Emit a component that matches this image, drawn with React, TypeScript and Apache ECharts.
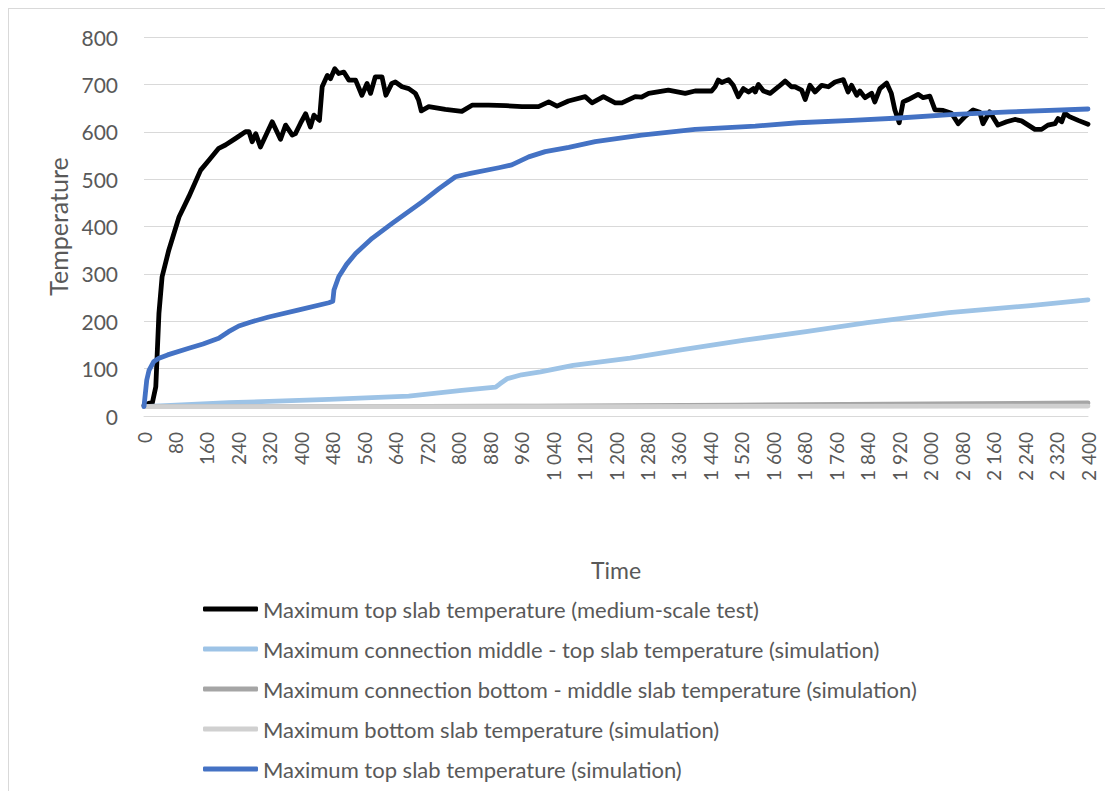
import React, { useEffect, useRef } from "react";
import * as echarts from "echarts";

const seriesNames = [
  "Maximum top slab temperature (medium-scale test)",
  "Maximum connection middle - top slab temperature (simulation)",
  "Maximum connection bottom - middle slab temperature (simulation)",
  "Maximum bottom slab temperature (simulation)",
  "Maximum top slab temperature (simulation)",
];

const testTop: [number, number][] = [
  [0, 22], [13, 27], [21, 27], [30, 62], [38, 217], [46, 294], [63, 350], [89, 420], [114, 463],
  [144, 519], [165, 540], [190, 565], [207, 572], [233, 586], [258, 600], [267, 600], [275, 579],
  [284, 596], [296, 568], [326, 621], [347, 584], [360, 614], [377, 593], [385, 596], [398, 618],
  [411, 638], [423, 610], [432, 635], [446, 624], [453, 695], [466, 719], [474, 712], [485, 733],
  [495, 723], [508, 726], [521, 709], [538, 709], [554, 677], [567, 702], [576, 681], [588, 716],
  [605, 716], [615, 677], [630, 702], [639, 705], [656, 695], [673, 691], [690, 681], [698, 667],
  [705, 644], [724, 653], [766, 647], [808, 643], [834, 656], [876, 656], [920, 655], [961, 653],
  [1003, 653], [1029, 663], [1050, 654], [1079, 665], [1122, 674], [1139, 661], [1168, 674],
  [1198, 661], [1215, 661], [1249, 674], [1265, 673], [1283, 681], [1333, 688], [1376, 681],
  [1401, 686], [1443, 686], [1452, 695], [1460, 709], [1469, 704], [1486, 710], [1498, 698],
  [1511, 674], [1524, 691], [1537, 684], [1549, 691], [1554, 684], [1562, 700], [1575, 686],
  [1592, 681], [1613, 695], [1630, 707], [1646, 695], [1655, 695], [1672, 688], [1681, 668],
  [1693, 698], [1706, 684], [1723, 698], [1740, 695], [1757, 705], [1778, 710], [1790, 684],
  [1799, 698], [1812, 677], [1820, 686], [1833, 672], [1850, 681], [1858, 663], [1871, 691],
  [1888, 703], [1900, 681], [1909, 646], [1920, 619], [1930, 663], [1943, 668], [1968, 679],
  [1981, 672], [1998, 675], [2011, 646], [2032, 645], [2053, 639], [2070, 617], [2087, 632],
  [2108, 646], [2125, 641], [2133, 617], [2150, 642], [2171, 614], [2193, 621], [2214, 626],
  [2231, 623], [2248, 614], [2265, 605], [2282, 605], [2298, 614], [2316, 617], [2324, 628],
  [2333, 621], [2341, 639], [2353, 632], [2375, 624], [2400, 616],
];

const simConnMidTop: [number, number][] = [
  [0, 20], [216, 28], [470, 35], [673, 42], [808, 54], [894, 61], [905, 68], [924, 79], [960, 87],
  [1008, 93], [1091, 107], [1236, 122], [1361, 139], [1527, 160], [1683, 178], [1839, 197],
  [2047, 218], [2254, 233], [2400, 245],
];

const simConnBotMid: [number, number][] = [
  [0, 20], [500, 20], [1000, 21], [1500, 23], [2000, 25.5], [2400, 27.5],
];

const simBottom: [number, number][] = [
  [0, 20], [1200, 20], [2400, 21],
];

const simTop: [number, number][] = [
  [0, 20], [7, 76], [13, 97], [25, 115], [38, 122], [60, 129], [114, 143], [150, 152], [190, 164],
  [215, 178], [241, 190], [270, 198], [317, 209], [394, 224], [470, 239], [480, 242], [483, 266],
  [495, 294], [515, 320], [538, 343], [580, 375], [630, 406], [707, 452], [750, 480], [792, 505],
  [830, 512], [902, 524], [935, 530], [978, 547], [1020, 558], [1080, 567], [1147, 579],
  [1265, 593], [1401, 605], [1554, 612], [1663, 619], [1800, 624], [1920, 629], [2050, 636],
  [2200, 642], [2400, 648],
];

const colors = ["#000000", "#9DC3E6", "#A5A5A5", "#D0D0D0", "#4472C4"];
const seriesData = [testTop, simConnMidTop, simConnBotMid, simBottom, simTop];

const FONT = "Lato";
const TXT = "#595959";

function fmtX(v: number): string {
  if (v >= 1000) {
    const th = Math.floor(v / 1000);
    const rest = String(v % 1000).padStart(3, "0");
    return `${th} ${rest}`;
  }
  return String(v);
}

export default function App() {
  const ref = useRef<HTMLDivElement>(null);
  useEffect(() => {
    if (!ref.current) return;
    const chart = echarts.init(ref.current, null, { renderer: "svg" });
    chart.setOption({
      animation: false,
      backgroundColor: "#ffffff",
      textStyle: { fontFamily: FONT },
      grid: { left: 144, right: 17, top: 37, bottom: 375, containLabel: false },
      graphic: [
        { type: "line", shape: { x1: 8.5, y1: 8, x2: 8.5, y2: 791 }, style: { stroke: "#d9d9d9", lineWidth: 1 } },
        { type: "line", shape: { x1: 8, y1: 8.5, x2: 1105, y2: 8.5 }, style: { stroke: "#d9d9d9", lineWidth: 1 } },
      ],
      legend: {
        orient: "vertical",
        left: 203,
        top: 597,
        padding: 0,
        itemWidth: 55,
        itemHeight: 5,
        itemGap: 16,
        icon: "roundRect",
        textStyle: { fontFamily: FONT, fontSize: 22, color: TXT, lineHeight: 24 },
        data: seriesNames,
      },
      xAxis: {
        type: "value",
        min: 0,
        max: 2400,
        interval: 80,
        name: "Time",
        nameLocation: "middle",
        nameGap: 142,
        nameTextStyle: { fontFamily: FONT, fontSize: 23, color: TXT },
        axisLine: { show: true, lineStyle: { color: "#d9d9d9", width: 1 } },
        axisTick: { show: false },
        splitLine: { show: false },
        axisLabel: {
          rotate: 90,
          margin: 16,
          fontFamily: FONT,
          fontSize: 19,
          color: TXT,
          showMinLabel: true,
          showMaxLabel: true,
          hideOverlap: false,
          formatter: (v: number) => fmtX(v),
        },
      },
      yAxis: {
        type: "value",
        min: 0,
        max: 800,
        interval: 100,
        name: "Temperature",
        nameLocation: "middle",
        nameGap: 74,
        nameTextStyle: { fontFamily: FONT, fontSize: 25, color: TXT },
        axisLine: { show: false },
        axisTick: { show: false },
        splitLine: { show: true, lineStyle: { color: "#d9d9d9", width: 1 } },
        axisLabel: { margin: 26, fontFamily: FONT, fontSize: 21, color: TXT },
      },
      series: seriesNames.map((name, i) => ({
        name,
        type: "line",
        data: seriesData[i],
        showSymbol: false,
        symbol: "none",
        smooth: false,
        color: colors[i],
        lineStyle: { color: colors[i], width: 4.8, cap: "round", join: "round" },
        emphasis: { disabled: true },
      })),
    });
    return () => chart.dispose();
  }, []);
  return (
    <div
      ref={ref}
      style={{ position: "absolute", left: 0, top: 0, width: 1105, height: 791 }}
    />
  );
}
